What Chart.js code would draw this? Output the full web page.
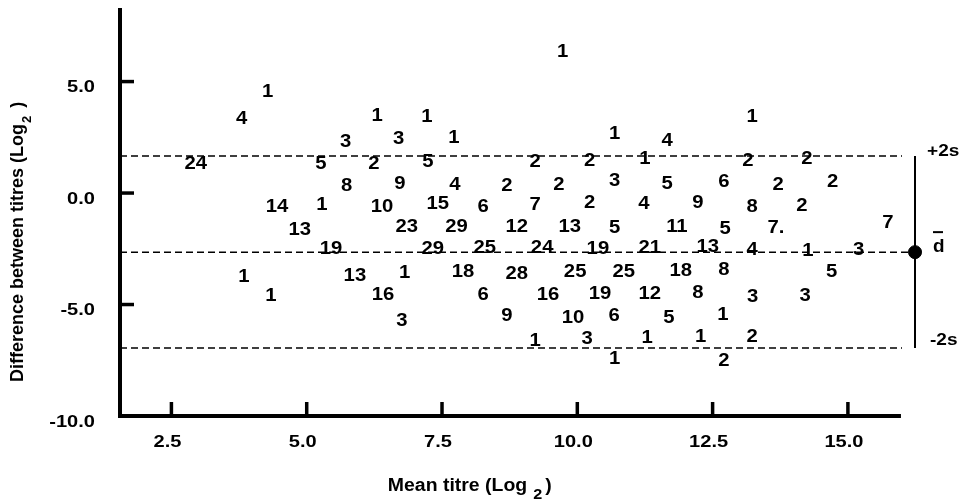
<!DOCTYPE html>
<html>
<head>
<meta charset="utf-8">
<script src="https://cdn.jsdelivr.net/npm/chart.js@4.4.1/dist/chart.umd.min.js"></script>
<style>
html, body { margin: 0; padding: 0; background: #fff; }
</style>
</head>
<body>
<canvas id="titreChart" width="962" height="504"></canvas>
<script>
// number of serum pairs at each (mean, difference) position
var counts = ['1','4','24','14','13','19','1','1','5','1','3','8','13','16','1','2','10','3','9','23','1','3',
  '1','5','15','29','1','4','29','18','6','25','6','2','12','28','9','1','2','7','24','16','1','2','13','25','10','3',
  '2','2','19','19','1','3','5','6','1','25','1','4','21','12','1','4','5','11','5','18','9','13','8','1',
  '6','5','8','1','2','1','2','8','4','3','2','7.','2','2','2','1','3','2','5','3','7'];
var meanTitre = [4.28,3.80,2.95,4.45,4.87,5.45,3.84,4.34,5.26,5.28,5.72,5.74,5.89,6.41,6.30,6.24,6.39,6.70,6.72,6.85,6.81,6.76,
  7.22,7.24,7.42,7.33,7.72,7.74,7.77,7.89,8.26,8.29,8.26,8.70,8.88,8.88,8.70,9.73,9.22,9.22,9.35,9.46,9.22,9.66,9.86,9.96,9.92,10.18,
  10.23,10.23,10.38,10.42,10.69,10.69,10.69,10.68,10.69,10.86,11.25,11.23,11.34,11.34,11.29,11.66,11.66,11.84,11.69,11.91,12.23,12.41,12.23,12.28,
  12.71,12.73,12.71,12.69,12.71,13.23,13.15,13.23,13.23,13.24,13.23,13.67,13.71,14.24,14.15,14.26,14.21,14.72,14.70,15.20,15.74];
var diffTitre = [4.51,3.30,1.28,-0.65,-1.68,-2.53,-3.79,-4.64,1.28,-0.56,2.26,0.29,-3.74,-4.60,3.43,1.28,-0.65,2.40,0.38,-1.55,-3.61,-5.76,
  3.39,1.37,-0.52,-2.53,2.44,0.34,-1.55,-3.57,-0.65,-2.49,-4.60,0.29,-1.55,-3.65,-5.54,6.30,1.37,-0.56,-2.49,-4.60,-6.66,0.34,-1.55,-3.57,-5.63,-6.57,
  1.41,-0.47,-2.53,-4.55,2.62,0.52,-1.59,-5.54,-7.47,-3.57,1.50,-0.52,-2.49,-4.55,-6.52,2.31,0.38,-1.55,-5.63,-3.52,-0.47,-2.44,-4.51,-6.48,
  0.47,-1.64,-3.48,-5.49,-7.56,3.39,1.41,-0.65,-2.58,-4.69,-6.48,-1.59,0.34,1.50,-0.61,-2.62,-4.64,0.47,-3.57,-2.58,-1.37];

var xTicks = [2.5, 5.0, 7.5, 10.0, 12.5, 15.0];
var yTicks = [5.0, 0.0, -5.0, -10.0];
var xAxisEnd = 15.98;

// mean difference and +/- 2 SD limits
var limitNames = ['+2s', 'd', '-2s'];
var limitValues = [1.66, -2.65, -6.95];
var limitStart = 1.55, limitEnd = 16.0, barX = 16.24;

var points = meanTitre.map(function (m, i) { return { x: m, y: diffTitre[i] }; });

var FONT = '"Liberation Sans", Arial, Helvetica, sans-serif';

function wideText(ctx, text, x, y, align, sx) {
  ctx.save();
  ctx.translate(x, y);
  ctx.scale(sx, 1);
  ctx.textAlign = align;
  ctx.fillText(text, 0, 0);
  ctx.restore();
}

var axesPlugin = {
  id: 'axesPlugin',
  afterDatasetsDraw: function (chart) {
    var ctx = chart.ctx;
    var xs = chart.scales.x, ys = chart.scales.y;
    var a = chart.chartArea;
    var left = xs.getPixelForValue(xs.min);
    var right = xs.getPixelForValue(xAxisEnd);
    var bottom = ys.getPixelForValue(ys.min);
    ctx.save();
    ctx.fillStyle = '#000';
    ctx.strokeStyle = '#000';

    // count labels
    var meta = chart.getDatasetMeta(0);
    ctx.font = 'bold 17.5px ' + FONT;
    ctx.textBaseline = 'middle';
    meta.data.forEach(function (el, i) {
      wideText(ctx, counts[i], el.x, el.y, 'center', 1.16);
    });

    // axis lines
    ctx.lineWidth = 4;
    ctx.beginPath();
    ctx.moveTo(left, a.top);
    ctx.lineTo(left, bottom + 2);
    ctx.moveTo(left - 2, bottom);
    ctx.lineTo(right, bottom);
    ctx.stroke();

    // tick marks and labels
    ctx.lineWidth = 3.5;
    ctx.font = 'bold 17px ' + FONT;
    yTicks.forEach(function (v) {
      var py = ys.getPixelForValue(v);
      ctx.beginPath();
      ctx.moveTo(left, py);
      ctx.lineTo(left + 14, py);
      ctx.stroke();
      wideText(ctx, v.toFixed(1), left - 25, py + 6, 'right', 1.18);
    });
    xTicks.forEach(function (v) {
      var px = xs.getPixelForValue(v);
      ctx.beginPath();
      ctx.moveTo(px, bottom);
      ctx.lineTo(px, bottom - 14);
      ctx.stroke();
      wideText(ctx, v.toFixed(1), px - 4, bottom + 26, 'center', 1.18);
    });

    // x title with subscript
    ctx.font = 'bold 18px ' + FONT;
    var t1 = 'Mean titre (Log';
    var w1 = ctx.measureText(t1).width * 1.08;
    ctx.font = 'bold 15px ' + FONT;
    var w2 = ctx.measureText('2').width * 1.08;
    var total = w1 + 6 + w2 + 3 + 7;
    var x0 = 470 - total / 2;
    var ty = bottom + 70;
    ctx.font = 'bold 18px ' + FONT;
    wideText(ctx, t1, x0, ty, 'left', 1.08);
    ctx.font = 'bold 15px ' + FONT;
    wideText(ctx, '2', x0 + w1 + 6, ty + 9, 'left', 1.08);
    ctx.font = 'bold 18px ' + FONT;
    wideText(ctx, ')', x0 + w1 + 6 + w2 + 3, ty, 'left', 1.08);

    // y title with subscript
    ctx.save();
    ctx.translate(18, 382);
    ctx.rotate(-Math.PI / 2);
    ctx.textAlign = 'left';
    ctx.font = 'bold 18px ' + FONT;
    var t2 = 'Difference between titres (Log';
    var w3 = ctx.measureText(t2).width;
    ctx.fillText(t2, 0, 0);
    ctx.font = 'bold 13px ' + FONT;
    ctx.fillText('2', w3 + 1, 9);
    var w4 = ctx.measureText('2').width;
    ctx.font = 'bold 18px ' + FONT;
    ctx.fillText(')', w3 + w4 + 9, 0);
    ctx.restore();

    // limit labels at the right
    var bx = xs.getPixelForValue(barX);
    ctx.font = 'bold 17px ' + FONT;
    wideText(ctx, limitNames[0], bx + 12, ys.getPixelForValue(limitValues[0]) - 5, 'left', 1.12);
    wideText(ctx, limitNames[2], bx + 15, ys.getPixelForValue(limitValues[2]) - 8, 'left', 1.12);
    ctx.font = 'bold 18px ' + FONT;
    var dy = ys.getPixelForValue(limitValues[1]) - 5;
    wideText(ctx, limitNames[1], bx + 18, dy, 'left', 1.05);
    ctx.lineWidth = 2;
    ctx.beginPath();
    ctx.moveTo(bx + 18, dy - 15);
    ctx.lineTo(bx + 28, dy - 15);
    ctx.stroke();

    ctx.restore();
  }
};

function limitLine(v, end) {
  return {
    type: 'line',
    data: [{ x: limitStart, y: v }, { x: end, y: v }],
    borderColor: '#000',
    borderWidth: 1.5,
    borderDash: [7, 4],
    pointRadius: 0,
    showLine: true
  };
}

new Chart(document.getElementById('titreChart'), {
  type: 'scatter',
  data: {
    datasets: [
      { data: points, pointRadius: 0, pointHoverRadius: 0 },
      limitLine(limitValues[0], limitEnd),
      limitLine(limitValues[1], barX),
      limitLine(limitValues[2], limitEnd),
      {
        type: 'line',
        data: [{ x: barX, y: limitValues[0] }, { x: barX, y: limitValues[2] }],
        borderColor: '#000',
        borderWidth: 2,
        pointRadius: 0,
        showLine: true
      },
      {
        data: [{ x: barX, y: limitValues[1] }],
        backgroundColor: '#000',
        borderColor: '#000',
        pointRadius: 6.5,
        pointHoverRadius: 6.5
      }
    ]
  },
  options: {
    responsive: false,
    animation: false,
    layout: { padding: { left: 120, right: 27.5, top: 8, bottom: 88 } },
    plugins: { legend: { display: false }, tooltip: { enabled: false } },
    scales: {
      x: { type: 'linear', display: false, min: 1.55, max: 16.6 },
      y: { type: 'linear', display: false, min: -10, max: 8.3 }
    }
  },
  plugins: [axesPlugin]
});
</script>
</body>
</html>
